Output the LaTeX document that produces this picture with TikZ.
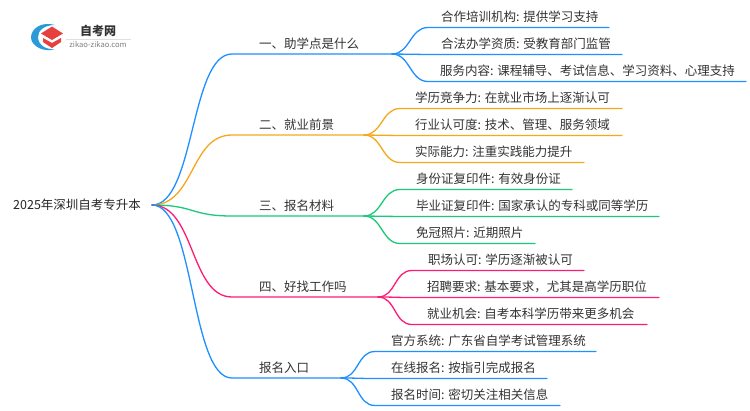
\documentclass[tikz,border=0pt]{standalone}
\usepackage{fontspec}
\setmainfont{Noto Sans CJK SC}
\definecolor{cblue}{HTML}{1E90FF}
\definecolor{corange}{HTML}{F5A81C}
\definecolor{cgreen}{HTML}{1DC77B}
\definecolor{cpink}{HTML}{FF1A75}
\definecolor{ctext}{HTML}{333333}
\definecolor{logoblue}{HTML}{2A9BD8}
\definecolor{logored}{HTML}{E5413F}
\tikzset{
  lbl/.style={inner sep=0pt,anchor=west,text=ctext,font=\fontsize{12.5}{14}\selectfont},
  branch/.style={line width=1.3pt,line cap=round},
}
% \kid{name}{colour}{fork}{text x}{line start x}{line end x}{y}{text}
\newcommand{\kid}[8]{%
  \coordinate (#1s) at (#5,#7);
  \coordinate (#1e) at (#6,#7);
  \node[lbl] (#1) at (#4,#7-10.5) {#8};
  \draw[branch,#2] (#3) .. controls ($(#3)+(18,0)$) and ($(#1s)+(-18,0)$) .. (#1s) -- (#1e);
}
\usetikzlibrary{calc}
\begin{document}
\begin{tikzpicture}[x=1pt,y=-1pt]
\useasboundingbox (0,0) rectangle (750,410);
\fill[white] (0,0) rectangle (750,410);
% logo
\fill[logoblue] (55,25) .. controls (41,21) and (31,29) .. (31,37.5) .. controls (31,46) and (44,53) .. (55,49) .. controls (46,50) and (38,45) .. (38,37) .. controls (38,30) and (45,25) .. (55,25) -- cycle;
\fill[logored] (52,26.5) -- (63,33.5) -- (52,40) -- (41,33.5) -- cycle;
\fill[logored] (43,38) -- (52,43) -- (61,38) -- (61,42) -- (52,48) -- (43,42) -- cycle;
\draw[gray!25,line width=.5pt] (66,39.3) -- (131,39.3);
\node[inner sep=0pt,text=ctext,font=\fontsize{12}{13}\selectfont\bfseries] (logoa) at (98,31) {自考网};
\node[inner sep=0pt,text=gray,font=\fontsize{7.6}{9}\selectfont] (logob) at (98,45) {zikao-zikao.com};
% root
\node[lbl,text=black!85] (root) at (13,205) {2025年深圳自考专升本};
\coordinate (r) at (152,205);
% main branches
\newcommand{\mainb}[5]{%
  \coordinate (#1s) at (232,#4);
  \coordinate (#1f) at (#3,#4);
  \node[lbl] (#1) at (259,#4-10.5) {#5};
  \draw[branch,#2] (r) .. controls (195,205) and (190,#4) .. (#1s) -- (#1f);
}
\mainb{a}{cblue}{392}{54}{一、助学点是什么}
\mainb{b}{corange}{364}{135}{二、就业前景}
\mainb{c}{cgreen}{364}{216}{三、报名材料}
\mainb{d}{cpink}{378}{297}{四、好找工作吗}
\mainb{e}{cblue}{341}{378}{报名入口}
% children
\kid{a1}{cblue}{af}{441}{428}{609}{27.5}{合作培训机构: 提供学习支持}
\kid{a2}{cblue}{af}{441}{428}{622}{54.5}{合法办学资质: 受教育部门监管}
\kid{a3}{cblue}{af}{440}{428}{746}{81.5}{服务内容: 课程辅导、考试信息、学习资料、心理支持}
\kid{b1}{corange}{bf}{415}{400}{622}{108.5}{学历竞争力: 在就业市场上逐渐认可}
\kid{b2}{corange}{bf}{415}{400}{622}{135.5}{行业认可度: 技术、管理、服务领域}
\kid{b3}{corange}{bf}{415}{400}{584}{162.5}{实际能力: 注重实践能力提升}
\kid{c1}{cgreen}{cf}{416}{400}{572}{189.5}{身份证复印件: 有效身份证}
\kid{c2}{cgreen}{cf}{416}{400}{659}{216.5}{毕业证复印件: 国家承认的专科或同等学历}
\kid{c3}{cgreen}{cf}{416}{400}{535}{243.5}{免冠照片: 近期照片}
\kid{d1}{cpink}{df}{428}{412}{584}{270.5}{职场认可: 学历逐渐被认可}
\kid{d2}{cpink}{df}{427}{412}{659}{297.5}{招聘要求: 基本要求，尤其是高学历职位}
\kid{d3}{cpink}{df}{427}{412}{647}{324.5}{就业机会: 自考本科学历带来更多机会}
\kid{e1}{cblue}{ef}{391}{375}{596}{351.5}{官方系统: 广东省自学考试管理系统}
\kid{e2}{cblue}{ef}{391}{375}{547}{378.5}{在线报名: 按指引完成报名}
\kid{e3}{cblue}{ef}{391}{375}{560}{405.5}{报名时间: 密切关注相关信息}
\end{tikzpicture}
\end{document}
